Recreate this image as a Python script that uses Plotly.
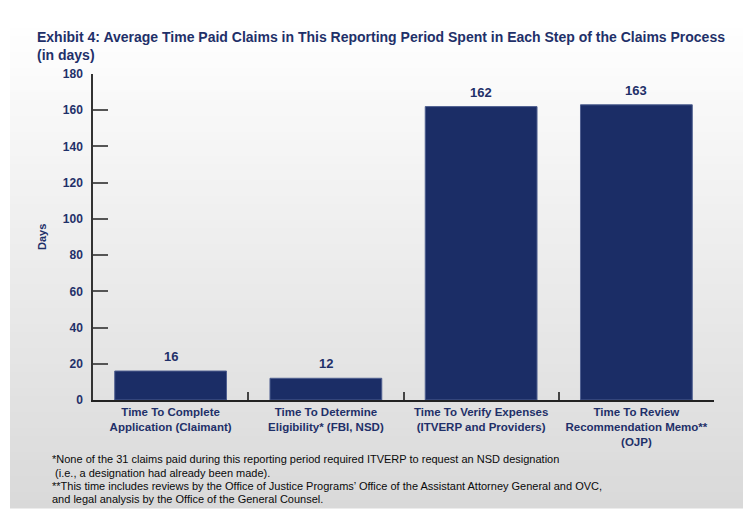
import plotly.graph_objects as go

# chart values
categories = [
    "Time To Complete<br>Application (Claimant)",
    "Time To Determine<br>Eligibility* (FBI, NSD)",
    "Time To Verify Expenses<br>(ITVERP and Providers)",
    "Time To Review<br>Recommendation Memo**<br>(OJP)",
]
days = [16, 12, 162, 163]
y_ticks = [0, 20, 40, 60, 80, 100, 120, 140, 160, 180]

title_lines = [
    "Exhibit 4: Average Time Paid Claims in This Reporting Period Spent in Each Step of the Claims Process",
    "(in days)",
]
footnotes = [
    "*None of the 31 claims paid during this reporting period required ITVERP to request an NSD designation",
    " (i.e., a designation had already been made).",
    "**This time includes reviews by the Office of Justice Programs\u2019 Office of the Assistant Attorney General and OVC,",
    "and legal analysis by the Office of the General Counsel.",
]

NAVY = "#1b2d66"
TEXT = "#1f3069"
ARIAL = "Liberation Sans, Arial, sans-serif"

W, H = 753, 524
L, R, T, B = 93, 39, 74, 124
PW, PH = W - L - R, H - T - B


def px(x):
    return (x - L) / PW


def py(y):
    return (H - B - y) / PH


fig = go.Figure()
fig.add_trace(go.Bar(
    x=categories, y=days,
    marker=dict(color=NAVY, line=dict(color="#4f5f90", width=1)),
    cliponaxis=False, width=0.72, hoverinfo="skip",
))

# gray gradient panel behind the chart
shapes = []
top, bottom, n = 20, 508, 61
step = (bottom - top) / n
for i in range(n):
    g = round(255 - (255 - 217) * (i + 0.5) / n)
    shapes.append(dict(
        type="rect", xref="paper", yref="paper", layer="below",
        x0=px(10), x1=px(743), y0=py(top + i * step), y1=py(top + (i + 1) * step + 0.5),
        fillcolor=f"rgb({g},{g},{g})", line=dict(width=0),
    ))

annotations = [dict(
    text="<br>".join(f"<b>{t}</b>" for t in title_lines),
    xref="paper", yref="paper", x=px(35), y=py(27),
    xanchor="left", yanchor="top", align="left", showarrow=False,
    font=dict(family=ARIAL, size=14, color=TEXT),
)]
# value labels above the bars
for cat, d in zip(categories, days):
    annotations.append(dict(
        text=f"<b>{d}</b>", x=cat, y=d, xref="x", yref="y",
        yanchor="bottom", yshift=5, showarrow=False,
        font=dict(family=ARIAL, size=13, color=TEXT),
    ))
for txt, ypos in zip(footnotes, [459, 473, 486, 499]):
    annotations.append(dict(
        text=txt, xref="paper", yref="paper", x=px(50), y=py(ypos),
        xanchor="left", yanchor="middle", align="left", showarrow=False,
        font=dict(family=ARIAL, size=11, color="#0a0a0a"),
    ))
annotations.append(dict(
    text="<b>Days</b>", xref="paper", yref="paper", x=px(42), y=py(237),
    xanchor="center", yanchor="middle", textangle=-90, showarrow=False,
    font=dict(family=ARIAL, size=11, color=TEXT),
))

fig.update_layout(
    width=W, height=H,
    margin=dict(l=L, r=R, t=T, b=B, autoexpand=False),
    paper_bgcolor="white", plot_bgcolor="rgba(0,0,0,0)",
    showlegend=False, shapes=shapes, annotations=annotations,
    xaxis=dict(
        showline=True, linecolor="#222222", linewidth=2,
        ticks="inside", tickson="boundaries", ticklen=8, tickcolor="#444444", tickwidth=1.5,
        tickfont=dict(family=ARIAL, size=11.5, color=TEXT, weight="bold"),
        tickangle=0, automargin=False,
        showgrid=False, ticklabelstandoff=0,
    ),
    yaxis=dict(
        range=[0, 180], tickvals=y_ticks, automargin=False,
        showline=True, linecolor="#333333", linewidth=1.5,
        ticks="inside", ticklen=15, tickcolor="#555555", tickwidth=1.5,
        tickfont=dict(family=ARIAL, size=12, color=TEXT, weight="bold"),
        showgrid=False, zeroline=False, ticklabelstandoff=6,
    ),
)

fig.write_html("out.html", config={"displayModeBar": False},
               post_script="document.body.style.margin='0';")
